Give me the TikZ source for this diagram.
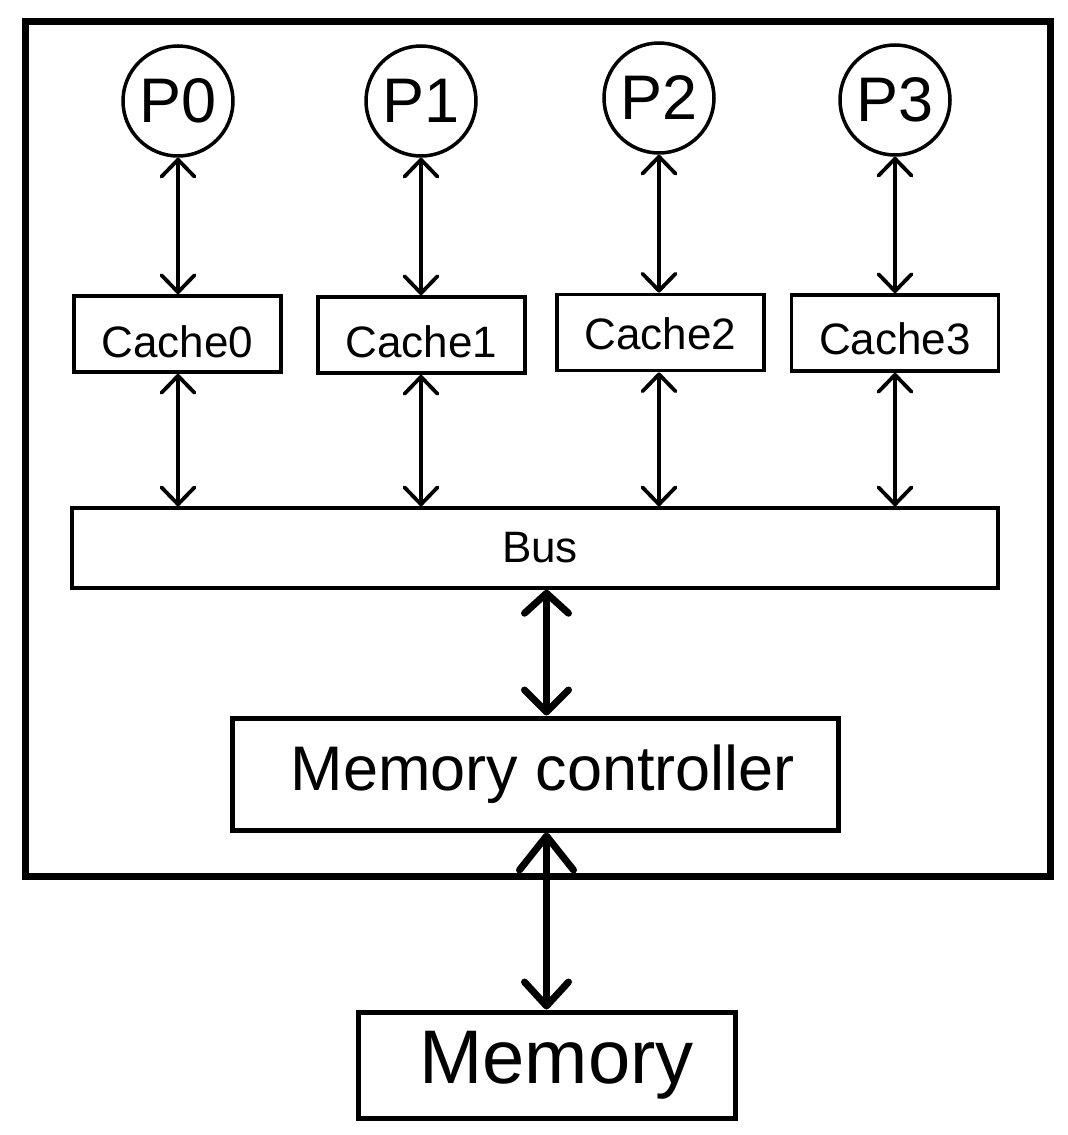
\documentclass[tikz,border=0pt]{standalone}
\usepackage{fontspec}
\setmainfont{Liberation Sans}
\usetikzlibrary{arrows.meta}
\newcommand{\cachetext}[2]{\raisebox{#1}[0pt][0pt]{#2}}
\tikzset{
  proc/.style={draw, circle, line width=3.5pt, minimum size=110pt, inner sep=0pt, font=\fontsize{63}{63}\selectfont},
  cachebox/.style={draw, rectangle, line width=3.8pt, minimum width=207pt, minimum height=76pt, inner sep=0pt, font=\fontsize{44}{44}\selectfont},
  thinarrow/.style={line width=3.8pt, {Straight Barb[length=17pt,width=33pt,round]}-{Straight Barb[length=17pt,width=33pt,round]}},
  thickarrow/.style={line width=7pt, {Straight Barb[length=20pt,width=44pt,round]}-{Straight Barb[length=22pt,width=44pt,round]}},
  memarrow/.style={line width=7pt, {Straight Barb[length=34pt,width=54pt,round]}-{Straight Barb[length=24pt,width=44pt,round]}},
}
\begin{document}
\begin{tikzpicture}[x=1pt,y=-1pt]
\useasboundingbox (0,0) rectangle (1068,1135);
\node[draw, rectangle, line width=7pt, minimum width=1025pt, minimum height=855pt, inner sep=0pt] (chip) at (538,448.5) {};
\node[proc] (p0) at (178,101) {P0};
\node[proc] (p1) at (421,101) {P1};
\node[proc] (p2) at (659,98) {P2};
\node[proc] (p3) at (895,100) {P3};
\node[cachebox] (c0) at (177.5,334) {\cachetext{-23.5pt}{Cache0}};
\node[cachebox] (c1) at (421.5,335) {\cachetext{-22.5pt}{Cache1}};
\node[cachebox] (c2) at (660.5,332.5) {\cachetext{-17pt}{Cache2}};
\node[cachebox] (c3) at (895,333) {\cachetext{-21pt}{Cache3}};
\node[draw, rectangle, line width=3.5pt, minimum width=926pt, minimum height=80pt, inner sep=0pt, font=\fontsize{44}{44}\selectfont] (bus) at (535,548) {\hspace*{10pt}Bus};
\node[draw, rectangle, line width=5pt, minimum width=606pt, minimum height=112pt, inner sep=0pt, font=\fontsize{63}{63}\selectfont] (mc) at (535,774) {\hspace*{16pt}Memory controller};
\node[draw, rectangle, line width=5pt, minimum width=377pt, minimum height=106pt, inner sep=0pt, font=\fontsize{76}{76}\selectfont] (mem) at (546.5,1065) {\hspace*{20pt}Memory};
\foreach \i in {0,1,2,3}{
  \draw[thinarrow] (p\i.south) -- (p\i.south |- c\i.north);
  \draw[thinarrow] (p\i.south |- c\i.south) -- (p\i.south |- bus.north);
}
\draw[thickarrow] (mem.north |- bus.south) -- (mem.north |- mc.north);
\draw[memarrow] (mem.north |- mc.south) -- (mem.north);
\end{tikzpicture}
\end{document}
